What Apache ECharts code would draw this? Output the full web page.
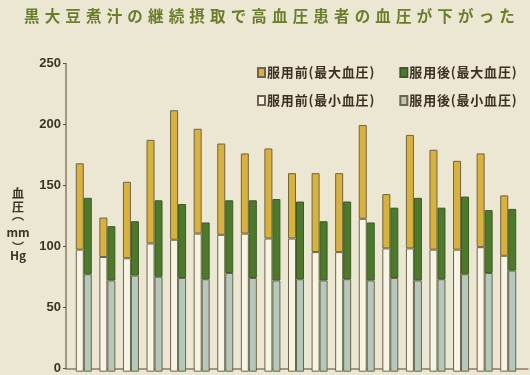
<!DOCTYPE html>
<html>
<head>
<meta charset="utf-8">
<script src="https://cdn.jsdelivr.net/npm/echarts@6/dist/echarts.min.js"></script>
<style>
	html, body { margin: 0; padding: 0; background: #ece7d3; }
	#main { width: 530px; height: 375px; }
</style>
</head>
<body>
<div id="main"></div>
<script>
// 患者ごとの血圧 (mmHg)
var patients = ["1", "2", "3", "4", "5", "6", "7", "8", "9", "10", "11", "12", "13", "14", "15", "16", "17", "18", "19"];
var beforeMax = [169, 125, 154, 188, 212, 197, 185, 177, 181, 161, 161, 161, 200, 144, 192, 180, 171, 177, 143];
var beforeMin = [99, 93, 92, 104, 107, 112, 111, 112, 108, 108, 97, 97, 124, 100, 100, 99, 99, 101, 94];
var afterMax = [141, 118, 122, 139, 136, 121, 139, 139, 140, 138, 122, 138, 121, 133, 141, 133, 142, 131, 132];
var afterMin = [79, 74, 78, 77, 76, 75, 80, 76, 74, 75, 74, 75, 74, 76, 74, 75, 79, 80, 82];
var yTicks = [0, 50, 100, 150, 200, 250];

var titleText = "黒大豆煮汁の継続摂取で高血圧患者の血圧が下がった";
var names = ["服用前(最大血圧)", "服用後(最大血圧)", "服用前(最小血圧)", "服用後(最小血圧)"];
// 縦書きの軸名
var yNameParts = ["血", "圧", "︵", "mm", "︶", "Hg"];

var fontJP = "'Noto Sans CJK JP', sans-serif";
var edge = "#6e6448";

// 積み上げ用に差分を作る
function diff(a, b) {
	var r = [];
	for (var i = 0; i < a.length; i++) {
		r.push(a[i] - b[i]);
	}
	return r;
}
// 字間を少し空ける
function spaced(s, sp) {
	return s.split("").join(sp);
}

// タイトル + 軸名 (1行ずつ、縦書き括弧はグリフが上下にずれるので補正)
var titles = [{
	text: spaced(titleText, "\u2004"),
	left: 19,
	top: 3,
	textStyle: { fontFamily: fontJP, fontSize: 15.5, fontWeight: "bold", color: "#6a7d2b" }
}];
var rowTop = [187, 201, 209, 226, 241, 249];
for (var i = 0; i < yNameParts.length; i++) {
	titles.push({
		text: yNameParts[i],
		left: 18, top: rowTop[i], textAlign: "center", padding: 0,
		textStyle: { fontFamily: fontJP, fontSize: 12, fontWeight: "bold", color: "#3a3326", lineHeight: 12 }
	});
}

var legendBase = {
	left: 257, padding: 0,
	itemWidth: 7, itemHeight: 9, itemGap: 25,
	icon: "rect",
	formatter: function(n) { return spaced(n, "\u200a"); },
	textStyle: { fontFamily: fontJP, fontSize: 13, fontWeight: "bold", color: "#3b2f22", padding: [0, 0, 0, -3] }
};

var chart = echarts.init(document.getElementById("main"));
var option = {
	backgroundColor: "#ece7d3",
	animation: false,
	title: titles,
	legend: [
		echarts.util.merge({ data: [names[0], names[1]], top: 66 }, legendBase),
		echarts.util.merge({ data: [names[2], names[3]], top: 94 }, legendBase)
	],
	grid: [
		{ left: 72, right: 10, top: 63.4, bottom: 3.3 },
		{ left: 66, right: 2, top: 63.4, bottom: 3.3 }
	],
	xAxis: [{
		type: "category", gridIndex: 0, data: patients,
		axisLine: { show: false }, axisTick: { show: false }, axisLabel: { show: false }
	}, {
		type: "value", gridIndex: 1, min: 0, max: 1,
		axisLine: { show: true, lineStyle: { color: "#8a7e66", width: 1.5 } },
		axisTick: { show: false }, axisLabel: { show: false }, splitLine: { show: false }
	}],
	yAxis: [{
		type: "value", gridIndex: 0, min: 0, max: 250, interval: 50,
		show: false
	}, {
		type: "value", gridIndex: 1, min: yTicks[0], max: yTicks[yTicks.length - 1], interval: 50,
		axisLine: { show: true, lineStyle: { color: "#8a7e66", width: 1.5 } },
		axisTick: { show: true, length: 3, lineStyle: { color: "#5a5040" } },
		axisLabel: { margin: 5, fontFamily: "'Liberation Sans', Arial, sans-serif", fontSize: 13, fontWeight: "bold", color: "#3a3326" },
		splitLine: { show: false }
	}],
	series: [{
		name: names[2], type: "bar", stack: "before", barWidth: 8, barGap: "0%",
		data: beforeMin,
		itemStyle: { color: "#f6f4e4", borderColor: edge, borderWidth: 1 }
	}, {
		name: names[0], type: "bar", stack: "before", barWidth: 8, barGap: "0%",
		data: diff(beforeMax, beforeMin),
		itemStyle: { color: "#dab23a", borderColor: edge, borderWidth: 1 }
	}, {
		name: names[3], type: "bar", stack: "after", barWidth: 8, barGap: "0%",
		data: afterMin,
		itemStyle: { color: "#b4c9bd", borderColor: edge, borderWidth: 1 }
	}, {
		name: names[1], type: "bar", stack: "after", barWidth: 8, barGap: "0%",
		data: diff(afterMax, afterMin),
		itemStyle: { color: "#4b7a2b", borderColor: "#3d5a25", borderWidth: 1 }
	}]
};
chart.setOption(option);
</script>
</body>
</html>
